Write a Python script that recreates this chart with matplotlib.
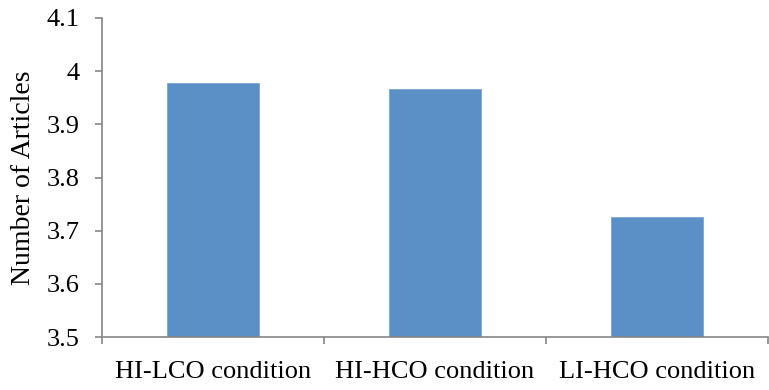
import matplotlib
matplotlib.use("Agg")
import matplotlib.pyplot as plt
import numpy as np

categories = ["HI-LCO condition", "HI-HCO condition", "LI-HCO condition"]
values = [3.977, 3.967, 3.725]
yticks = [3.5, 3.6, 3.7, 3.8, 3.9, 4.0, 4.1]
ytick_labels = ["3.5", "3.6", "3.7", "3.8", "3.9", "4", "4.1"]
ylabel = "Number of Articles"

plt.rcParams['font.family'] = ['Liberation Serif', 'DejaVu Serif']

fig = plt.figure(figsize=(7.69, 3.90), dpi=100)
ax = fig.add_axes([102/769, 53/390, 666/769, 319/390])

x = np.arange(len(categories))
ax.bar(x, values, width=0.41, color='#5b90c6', edgecolor='#7aa6d4', linewidth=0.6, zorder=2)

ax.set_xlim(-0.5, len(categories) - 0.5)
ax.set_ylim(3.5, 4.1)
ax.set_yticks(yticks)
ax.set_yticklabels(ytick_labels, fontsize=19)
ax.set_xticks(x)
ax.set_xticklabels(categories, fontsize=19)
ax.tick_params(axis='x', which='major', length=0, pad=17)
ax.set_xticks(np.arange(len(categories) + 1) - 0.5, minor=True)
ax.tick_params(axis='x', which='minor', length=5, color='#868686', width=1.2, direction='out')
ax.tick_params(axis='y', which='major', length=5, color='#868686', width=1.2, direction='out', pad=11)

for s in ['top', 'right']:
    ax.spines[s].set_visible(False)
for s in ['left', 'bottom']:
    ax.spines[s].set_color('#868686')
    ax.spines[s].set_linewidth(1.2)

ax.set_ylabel(ylabel, fontsize=20, labelpad=8)

fig.savefig("out.png", dpi=100)
